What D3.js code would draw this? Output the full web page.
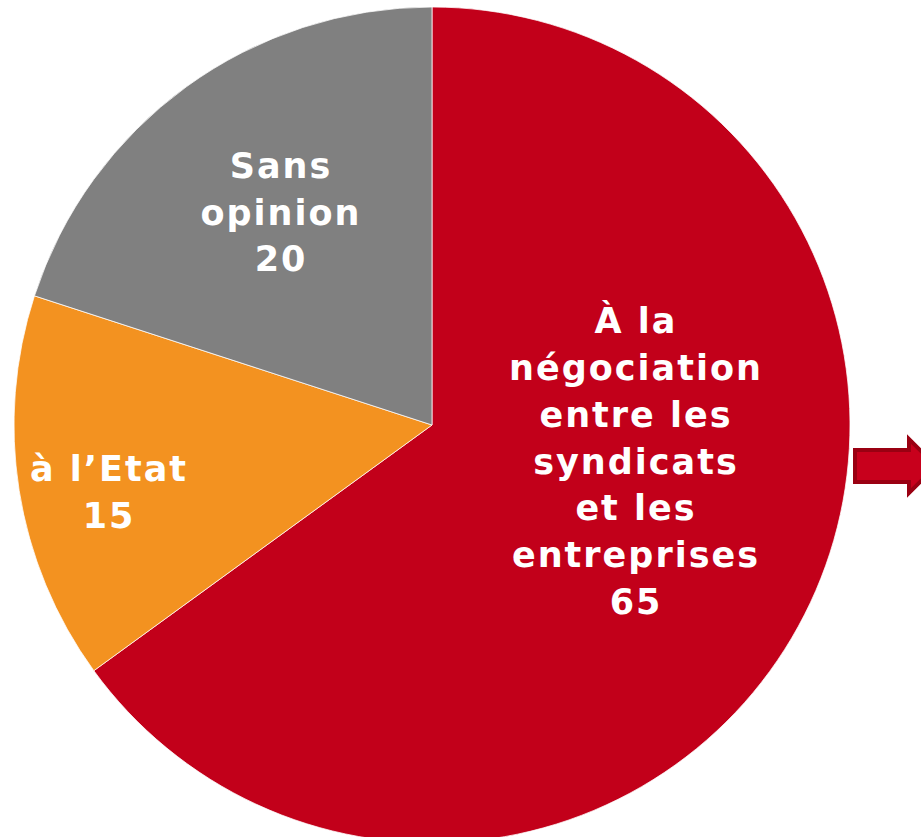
<!DOCTYPE html>
<html>
<head>
<meta charset="utf-8">
<script src="https://cdn.jsdelivr.net/npm/d3@7"></script>
<style>
  html, body { margin: 0; padding: 0; background: #fff; overflow: hidden; }
  svg { display: block; }
</style>
</head>
<body>
<div id="chart"></div>
<script>
// Pie: répartition des réponses (%)
const categories = ["À la négociation entre les syndicats et les entreprises", "à l’Etat", "Sans opinion"];
const values = [65, 15, 20];
const labelLines = [
    ["À la", "négociation", "entre les", "syndicats", "et les", "entreprises", "65"],
    ["à l’Etat", "15"],
    ["Sans", "opinion", "20"]
];
const colors = ["#c2001a", "#f39220", "#808080"];

const width = 921, height = 837;
const cx = 432, cy = 425, radius = 418;
const lineHeight = 46.7;
const letterSpacing = 2;
// label block centres relative to pie centre (layout only)
const labelCentres = [[203, 36], [-324, 67], [-152, -213]];

const svg = d3.select("#chart").append("svg")
    .attr("width", width)
    .attr("height", height);

const pie = d3.pie().sort(null).value(d => d)(values);
const arc = d3.arc().innerRadius(0).outerRadius(radius);

const g = svg.append("g").attr("transform", `translate(${cx},${cy})`);

g.selectAll("path.slice")
    .data(pie)
    .enter().append("path")
    .attr("class", "slice")
    .attr("d", arc)
    .attr("fill", (d, i) => colors[i])
    .attr("stroke", "#fff")
    .attr("stroke-width", 0.75);

const labels = g.selectAll("text.lbl")
    .data(pie)
    .enter().append("text")
    .attr("class", "lbl")
    .attr("text-anchor", "middle")
    .attr("fill", "#fff")
    .style("font-family", "'DejaVu Sans', Verdana, sans-serif")
    .style("font-weight", "bold")
    .style("font-size", "35px")
    .style("letter-spacing", letterSpacing + "px");

labels.each(function(d, i) {
    const lines = labelLines[i];
    const [lx, ly] = labelCentres[i];
    const top = ly - (lines.length - 1) * lineHeight / 2 + 12.5;
    d3.select(this).selectAll("tspan")
        .data(lines)
        .enter().append("tspan")
        .attr("x", lx + letterSpacing / 2)
        .attr("y", (t, j) => top + j * lineHeight)
        .text(t => t);
});

// block arrow pointing right (next slide)
const ax = 855, ay = 466;
const arrow = d3.path();
arrow.moveTo(ax, ay - 16);
arrow.lineTo(ax + 54, ay - 16);
arrow.lineTo(ax + 54, ay - 27);
arrow.lineTo(ax + 81, ay);
arrow.lineTo(ax + 54, ay + 27);
arrow.lineTo(ax + 54, ay + 16);
arrow.lineTo(ax, ay + 16);
arrow.closePath();
svg.append("path")
    .attr("d", arrow.toString())
    .attr("fill", "#c8001c")
    .attr("stroke", "#9a0012")
    .attr("stroke-width", 4)
    .attr("stroke-linejoin", "miter");
</script>
</body>
</html>
